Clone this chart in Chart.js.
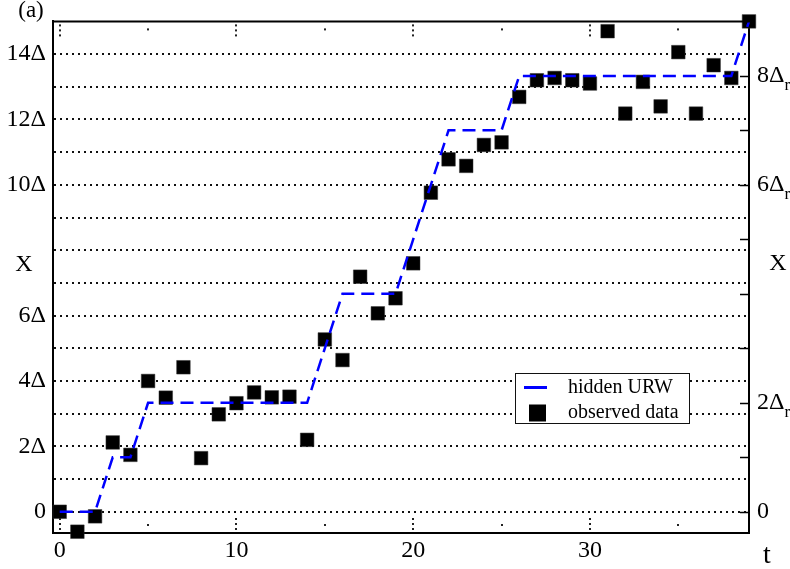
<!DOCTYPE html>
<html><head><meta charset="utf-8">
<script src="https://cdn.jsdelivr.net/npm/chart.js@4.4.1/dist/chart.umd.min.js"></script>
<style>html,body{margin:0;padding:0;background:#fff;overflow:hidden}</style>
</head><body>
<canvas id="c" width="790" height="569"></canvas>
<script>
// ---- data ----
const timeSteps = [0,1,2,3,4,5,6,7,8,9,10,11,12,13,14,15,16,17,18,19,20,21,22,23,24,25,26,27,28,29,30,31,32,33,34,35,36,37,38,39];
// observed data, in units of Δ
const observedData = [0,-0.61,-0.14,2.12,1.74,4.0,3.49,4.42,1.64,2.98,3.32,3.65,3.5,3.52,2.2,5.27,4.64,7.19,6.07,6.53,7.6,9.76,10.78,10.58,11.22,11.3,12.69,13.2,13.27,13.2,13.1,14.7,12.18,13.15,12.4,14.06,12.18,13.66,13.27,15.0];
// hidden URW, in units of Δr (right axis)
const hiddenURW = [0,0,0,1,1,2,2,2,2,2,2,2,2,2,2,3,4,4,4,4,5,6,7,7,7,7,8,8,8,8,8,8,8,8,8,8,8,8,8,9];
const seriesLabels = ['hidden URW','observed data'];

const xMajorTicks = [0,10,20,30];
const xMinorTicks = [5,15,25,35];
const yGridValues = [0,1,2,3,4,5,6,7,8,9,10,11,12,13,14];
const yLabelValues = [0,2,4,6,10,12,14];
const yLabelTexts = ['0','2Δ','4Δ','6Δ','10Δ','12Δ','14Δ'];
const y2TickValues = [0,1,2,3,4,5,6,7,8];
const y2LabelValues = [0,2,6,8];
const y2LabelMain = ['0','2Δ','6Δ','8Δ'];
const y2LabelSub = ['','r','r','r'];

const X_MIN = -0.38, X_MAX = 39;
const Y_MIN = -0.65, Y_MAX = 15;
const RATIO = 3/5; // Δ / Δr
const Y2_MIN = Y_MIN*RATIO, Y2_MAX = Y_MAX*RATIO;

const SERIF = "'Liberation Serif','Times New Roman',serif";
const tickFont = {family: SERIF, size: 24};

const overlay = {
  id: 'overlay',
  afterDraw(chart) {
    const {ctx, chartArea: a, scales} = chart;
    const sx = scales.x, sy = scales.y, sy2 = scales.y2;
    ctx.save();
    // top frame
    ctx.strokeStyle = '#000'; ctx.lineWidth = 2;
    ctx.beginPath(); ctx.moveTo(a.left - 1, a.top); ctx.lineTo(a.right + 1, a.top); ctx.stroke();
    // inward dotted ticks on x
    ctx.fillStyle = '#222';
    xMajorTicks.forEach(v => {
      const px = Math.round(sx.getPixelForValue(v));
      [3, 8, 13].forEach(d => {
        ctx.fillRect(px - 1, a.bottom - d - 2, 2, 2);
        ctx.fillRect(px - 1, a.top + d, 2, 2);
      });
    });
    xMinorTicks.forEach(v => {
      const px = Math.round(sx.getPixelForValue(v));
      ctx.fillRect(px - 1, a.bottom - 7 - 2, 2, 2);
      ctx.fillRect(px - 1, a.top + 7, 2, 2);
    });
    // inward solid ticks on right axis
    ctx.strokeStyle = '#000'; ctx.lineWidth = 1.5;
    y2TickValues.forEach(v => {
      const py = Math.round(sy2.getPixelForValue(v)) + 0.5;
      ctx.beginPath(); ctx.moveTo(a.right - 9, py); ctx.lineTo(a.right, py); ctx.stroke();
    });
    // right axis labels with subscript
    ctx.fillStyle = '#000'; ctx.textBaseline = 'middle'; ctx.textAlign = 'left';
    y2LabelValues.forEach((v, i) => {
      const py = sy2.getPixelForValue(v);
      ctx.font = '24px ' + SERIF;
      ctx.fillText(y2LabelMain[i], a.right + 8, py);
      const w = ctx.measureText(y2LabelMain[i]).width;
      if (y2LabelSub[i]) {
        ctx.font = '17px ' + SERIF;
        ctx.fillText(y2LabelSub[i], a.right + 8 + w, py + 10);
      }
    });
    // axis titles
    ctx.font = '24px ' + SERIF; ctx.textAlign = 'center';
    ctx.fillText('X', a.left - 29, sy.getPixelForValue(7.55));
    ctx.fillText('X', a.right + 29, sy.getPixelForValue(7.6));
    ctx.font = '28px ' + SERIF;
    ctx.fillText('t', a.right + 18, a.bottom + 23);
    ctx.font = '23px ' + SERIF;
    ctx.fillText('(a)', 31, 11);
    // legend
    const lw = 174, lh = 50;
    const lx = a.right - 234, ly = a.bottom - 160;
    ctx.fillStyle = '#fff'; ctx.fillRect(lx, ly, lw, lh);
    ctx.strokeStyle = '#111'; ctx.lineWidth = 1;
    ctx.strokeRect(lx + 0.5, ly + 0.5, lw, lh);
    const ds = chart.data.datasets;
    const r1 = ly + 14.5, r2 = ly + 40;
    ctx.strokeStyle = ds[0].borderColor; ctx.lineWidth = 3;
    ctx.beginPath(); ctx.moveTo(lx + 9, r1); ctx.lineTo(lx + 32, r1); ctx.stroke();
    ctx.fillStyle = ds[1].backgroundColor;
    ctx.fillRect(lx + 14, r2 - 8.5, 17, 17);
    ctx.fillStyle = '#000'; ctx.font = '20px ' + SERIF; ctx.textAlign = 'left';
    ctx.fillText(ds[0].label, lx + 53, r1);
    ctx.fillText(ds[1].label, lx + 53, r2);
    ctx.restore();
  }
};

new Chart(document.getElementById('c'), {
  type: 'scatter',
  data: {
    datasets: [
      {
        label: seriesLabels[0],
        data: timeSteps.map((t, i) => ({x: t, y: hiddenURW[i]})),
        yAxisID: 'y2', showLine: true, borderColor: '#0000ff', borderWidth: 2.5,
        borderDash: [13, 7], pointRadius: 0, fill: false, tension: 0, clip: false
      },
      {
        label: seriesLabels[1],
        data: timeSteps.map((t, i) => ({x: t, y: observedData[i]})),
        yAxisID: 'y', showLine: false, pointStyle: 'rect', pointRadius: 9.6,
        backgroundColor: '#000', borderColor: '#333', borderWidth: 0.5, clip: false
      }
    ]
  },
  options: {
    responsive: false, animation: false, devicePixelRatio: 1,
    layout: {padding: {top: 21, left: 0, right: 0, bottom: 0}},
    plugins: {legend: {display: false}, tooltip: {enabled: false}},
    scales: {
      x: {
        type: 'linear', position: 'bottom', min: X_MIN, max: X_MAX,
        afterBuildTicks: s => { s.ticks = xMajorTicks.map(v => ({value: v})); },
        afterFit: s => { s.height = 36; },
        grid: {display: false, drawTicks: false},
        border: {display: true, color: '#000', width: 2},
        ticks: {font: tickFont, color: '#000', padding: 3, maxRotation: 0, autoSkip: false, callback: v => String(v)}
      },
      y: {
        type: 'linear', position: 'left', min: Y_MIN, max: Y_MAX,
        afterBuildTicks: s => { s.ticks = yGridValues.map(v => ({value: v})); },
        afterFit: s => { s.width = 53; },
        grid: {display: true, color: '#111', lineWidth: 2, drawTicks: false},
        border: {display: true, color: '#000', width: 2, dash: [2, 4]},
        ticks: {font: tickFont, color: '#000', padding: 7, autoSkip: false,
          callback: v => { const k = yLabelValues.indexOf(v); return k >= 0 ? yLabelTexts[k] : ''; }}
      },
      y2: {
        type: 'linear', position: 'right', min: Y2_MIN, max: Y2_MAX,
        afterFit: s => { s.width = 41; },
        grid: {display: false, drawTicks: false},
        border: {display: true, color: '#000', width: 2},
        ticks: {display: false}
      }
    }
  },
  plugins: [overlay]
});
</script>
</body></html>
